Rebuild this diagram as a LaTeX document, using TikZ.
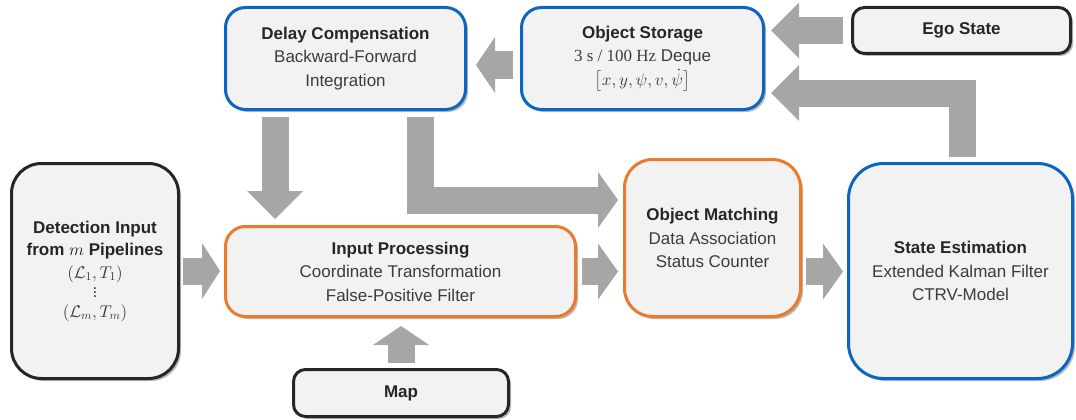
\documentclass[tikz,border=0pt]{standalone}
\usepackage{amsmath}
\usepackage{fontspec}
\setmainfont{Liberation Sans}
\newfontfamily\unitfont{Liberation Serif}
\usetikzlibrary{arrows.meta,shadows,calc}

% scalable math fonts at any size
\DeclareFontShape{OML}{cmm}{m}{it}{<->cmmi10}{}
\DeclareFontShape{OMS}{cmsy}{m}{n}{<->cmsy10}{}
\DeclareFontShape{OMX}{cmex}{m}{n}{<->cmex10}{}
\DeclareFontShape{OT1}{cmr}{m}{n}{<->cmr10}{}

\definecolor{boxfill}{HTML}{F2F2F2}
\definecolor{boxblue}{HTML}{0A66C2}
\definecolor{boxorange}{HTML}{EA7A2C}
\definecolor{boxdark}{HTML}{262626}
\definecolor{arrowgray}{HTML}{A6A6A6}
\definecolor{titlegray}{HTML}{262626}
\definecolor{bodygray}{HTML}{3C3C3C}

\newcommand{\panelfont}{\fontsize{17}{23.5}\selectfont\lineskiplimit-40pt\relax}

\tikzset{
  panel/.style={draw, rounded corners=#1, fill=boxfill, line width=3pt,
    inner sep=0pt, outer sep=0pt, align=center, text=bodygray,
    font=\panelfont,
    drop shadow={shadow xshift=2.5pt, shadow yshift=-2.5pt, opacity=0.28, fill=black}},
  panel/.default=20pt,
  bluepanel/.style={panel=#1, draw=boxblue},
  bluepanel/.default=20pt,
  orangepanel/.style={panel=#1, draw=boxorange},
  orangepanel/.default=20pt,
  darkpanel/.style={panel=#1, draw=boxdark},
  darkpanel/.default=20pt,
  bigarrow/.style={draw=arrowgray, line width=27pt, line join=miter, line cap=butt,
    -{Triangle[width=56pt 0, length=#1 0 0, line width=0pt, fill=arrowgray]}},
  bigarrow/.default=20pt,
}
\newcommand{\ttl}[1]{{\bfseries\color{titlegray}#1}}

\begin{document}
\begin{tikzpicture}[x=1pt,y=-1pt]
  \useasboundingbox (0,0) rectangle (1076,420);

  % processing blocks
  \node[bluepanel, minimum width=240pt, minimum height=102pt] (delay) at (345.5,58.5)
    {\ttl{Delay Compensation}\\Backward-Forward\\Integration};
  \node[bluepanel, minimum width=242pt, minimum height=102pt] (storage) at (642.5,58.5)
    {\ttl{Object Storage}\\{\unitfont 3 s / 100 Hz} Deque\\$\big[x, y, \psi, v, \dot{\psi}\big]$};
  \node[darkpanel=12pt, minimum width=218pt, minimum height=46pt] (ego) at (961.5,30.5)
    {\ttl{Ego State}};
  \node[darkpanel=30pt, minimum width=167pt, minimum height=215pt] (detect) at (95,271)
    {\ttl{Detection Input}\\[-1.5pt]\ttl{from $m$ Pipelines}\\[-0.5pt]
     $(\mathcal{L}_1, T_1)$\\[-4.5pt]$\vdots$\\[-3.5pt]$(\mathcal{L}_m, T_m)$};
  \node[orangepanel, minimum width=350pt, minimum height=90pt] (input) at (400.5,271.5)
    {\ttl{Input Processing}\\Coordinate Transformation\\False-Positive Filter};
  \node[orangepanel=28pt, minimum width=176pt, minimum height=157pt] (match) at (712.5,238)
    {\ttl{Object Matching}\\Data Association\\Status Counter};
  \node[bluepanel=35pt, minimum width=224pt, minimum height=215pt] (state) at (960.5,271)
    {\ttl{State Estimation}\\Extended Kalman Filter\\CTRV-Model};
  \node[darkpanel=12pt, minimum width=215pt, minimum height=47pt] (map) at (401,393)
    {\ttl{Map}};

  % data flow
  \draw[bigarrow=18pt] ($(detect.east)+(4.5,0)$) -- ($(input.west |- detect.east)+(-5.5,0)$);
  \draw[bigarrow] ($(input.east)+(6.5,0)$) -- ($(match.west |- input.east)+(-6.5,0)$);
  \draw[bigarrow] ($(match.east |- input.east)+(5.5,0)$) -- ($(state.west |- input.east)+(-5.5,0)$);
  \draw[bigarrow=28pt] ($(delay.south)+(-70.5,7.5)$) -- ($(input.north)+(-125.5,-7.5)$);
  \draw[bigarrow] ($(delay.south)+(75,7.5)$) |- ($(match.west)+(-6.5,-38)$);
  \draw[bigarrow=19pt] ($(map.north)+(0,-6.5)$) -- ($(map.north |- input.south)+(0,9.5)$);
  \draw[bigarrow=19pt] ($(storage.west)+(-8.5,6.5)$) -- ($(delay.east)+(10.5,6.5)$);
  \draw[bigarrow=28pt] ($(ego.west)+(-9.5,0)$) -- ($(storage.east |- ego.west)+(7.5,0)$);
  \draw[bigarrow=28pt] ($(state.north)+(1.5,-6.5)$) |- ($(storage.east)+(7.5,34.5)$);
\end{tikzpicture}
\end{document}
